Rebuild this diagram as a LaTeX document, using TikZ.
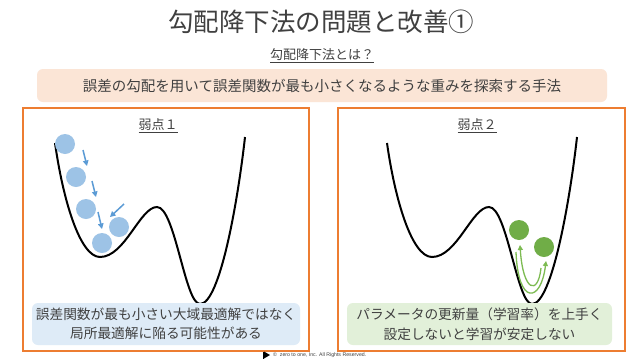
\documentclass[tikz,border=0pt]{standalone}
\usepackage{fontspec}
\setmainfont{Noto Sans CJK JP}
\newfontfamily\latinfont{Liberation Sans}
\usetikzlibrary{arrows.meta}
\definecolor{txt}{HTML}{404040}
\definecolor{peach}{HTML}{FBE5D6}
\definecolor{orng}{HTML}{ED7D31}
\definecolor{lblue}{HTML}{DEEBF7}
\definecolor{lgreen}{HTML}{E2F0D9}
\definecolor{ball}{HTML}{9DC3E6}
\definecolor{barrow}{HTML}{5B9BD5}
\definecolor{gball}{HTML}{70AD47}
\definecolor{garrow}{HTML}{7DBB52}
\tikzset{
  panel/.style={draw=orng, line width=2pt, fill=white, minimum width=286pt, minimum height=243pt, inner sep=0pt},
  notebox/.style={rounded corners=6pt, minimum height=42pt, inner sep=0pt, text=txt, align=center, font=\fontsize{13.7}{19.5}\selectfont},
  curve/.style={line width=2pt, black},
  bluedot/.style={circle, fill=ball, minimum size=20pt, inner sep=0pt},
  greendot/.style={circle, fill=gball, minimum size=20pt, inner sep=0pt},
  barr/.style={barrow, line width=1.5pt, -{Triangle[length=5.5pt,width=5.5pt]}},
  garr/.style={garrow, line width=1.3pt, -{Triangle[length=5pt,width=5pt]}},
  head/.style={text=txt, font=\fontsize{13}{15}\selectfont}
}
\begin{document}
\begin{tikzpicture}[x=1pt,y=-1pt]
\useasboundingbox (0,0) rectangle (644,362);
\fill[white] (0,0) rectangle (644,362);

% title
\node[text=txt, font=\fontsize{25.5}{30}\selectfont] (title) at (321,22) {勾配降下法の問題と改善①};
\node[head] (sub) at (322,56) {\underline{勾配降下法とは？}};
\node[fill=peach, rounded corners=6pt, minimum width=570pt, minimum height=33pt, inner sep=0pt, text=txt, font=\fontsize{14.5}{17}\selectfont] (def) at (322,85.5) {誤差の勾配を用いて誤差関数が最も小さくなるような重みを探索する手法};

% panels
\node[panel] (p1) at (166,229.5) {};
\node[panel, minimum width=287pt] (p2) at (481.5,229.5) {};
\node[head] (w1) at (158,126) {\underline{弱点１}};
\node[head] (w2) at (477,126) {\underline{弱点２}};

% curves
\draw[curve] (55,143) .. controls (63,200) and (80,257) .. (100,257)
  .. controls (125,257) and (140,207) .. (157,207)
  .. controls (175,207) and (185,304) .. (200,304)
  .. controls (220,304) and (238,200) .. (245,137);
\begin{scope}[xshift=332pt]
\draw[curve] (55,143) .. controls (63,200) and (80,257) .. (100,257)
  .. controls (125,257) and (140,207) .. (157,207)
  .. controls (175,207) and (185,304) .. (200,304)
  .. controls (220,304) and (238,200) .. (245,137);
\end{scope}

% blue balls and arrows
\node[bluedot] (b1) at (65,144) {};
\node[bluedot] (b2) at (76,177) {};
\node[bluedot] (b3) at (86,209) {};
\node[bluedot] (b4) at (102,243) {};
\node[bluedot] (b5) at (119,227) {};
\coordinate (a1s) at (83,150); \coordinate (a1e) at (87,166);
\coordinate (a2s) at (92,181); \coordinate (a2e) at (96,197);
\coordinate (a3s) at (98,212); \coordinate (a3e) at (102,229);
\coordinate (a4s) at (124,204); \coordinate (a4e) at (110,217);
\draw[barr] (a1s) -- (a1e);
\draw[barr] (a2s) -- (a2e);
\draw[barr] (a3s) -- (a3e);
\draw[barr] (a4s) -- (a4e);

% green balls and arrows
\node[greendot] (g1) at (519,230) {};
\node[greendot] (g2) at (544,247) {};
\coordinate (ga1) at (541,268); \coordinate (ga2) at (520,245);
\coordinate (gb1) at (516,252); \coordinate (gb2) at (546,261);
\draw[garr] (ga1) .. controls (538,296) and (523,292) .. (ga2);
\draw[garr] (gb1) .. controls (518,306) and (541,303) .. (gb2);

% note boxes
\node[notebox, fill=lblue, minimum width=268pt] (n1) at (166,324) {誤差関数が最も小さい大域最適解ではなく\\局所最適解に陥る可能性がある};
\node[notebox, fill=lgreen, minimum width=265pt] (n2) at (479.5,324) {パラメータの更新量（学習率）を上手く\\設定しないと学習が安定しない};

% footer
\node[font=\latinfont\fontsize{5.2}{6}\selectfont, text=black!75, anchor=west, inner sep=0pt] (foot) at (273,355) {©\ \ zero to one, Inc. All Rights Reserved.};
\fill[black] (262.5,352) rectangle (263.5,358.5);
\fill[black] (264,351.5) -- (270,355) -- (264,358.5) -- cycle;
\end{tikzpicture}
\end{document}
